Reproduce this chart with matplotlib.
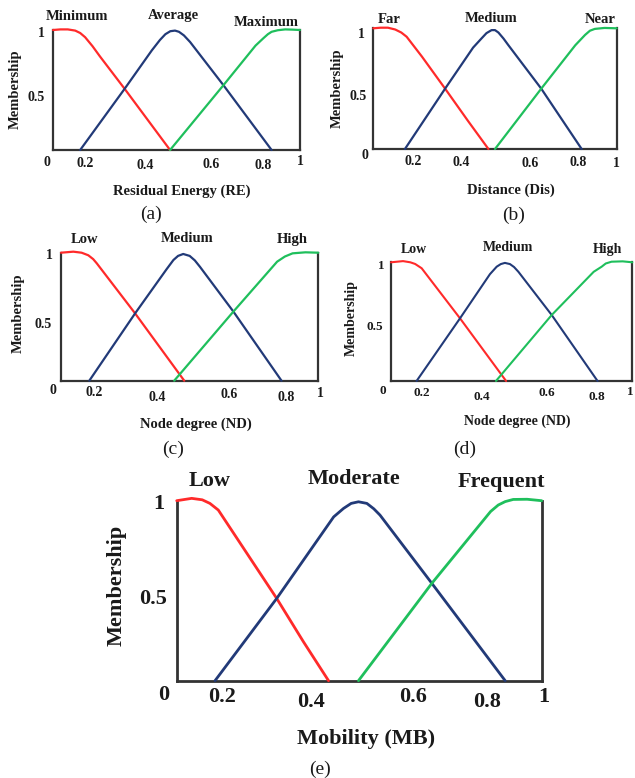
import matplotlib
matplotlib.use("Agg")
import matplotlib.pyplot as plt

# ---------------- DATA ----------------
# Membership curves, x and y (x as fraction of each plot box)
a_red_x = [0, 0.03, 0.06, 0.09, 0.11, 0.13, 0.16, 0.19, 0.29, 0.474]
a_red_y = [1.0, 1.005, 1.005, 0.995, 0.975, 0.94, 0.865, 0.78, 0.51, 0.0]
a_blue_x = [0.11, 0.29, 0.40, 0.433, 0.455, 0.475, 0.494, 0.51, 0.53, 0.555, 0.69, 0.885]
a_blue_y = [0.0, 0.51, 0.83, 0.917, 0.965, 0.99, 0.995, 0.985, 0.955, 0.90, 0.54, 0.0]
a_green_x = [0.474, 0.69, 0.82, 0.851, 0.87, 0.885, 0.91, 0.94, 0.97, 1.0]
a_green_y = [0.0, 0.54, 0.87, 0.93, 0.965, 0.985, 0.998, 1.005, 1.003, 1.0]

b_red_x = [0, 0.03, 0.06, 0.09, 0.115, 0.137, 0.2, 0.295, 0.39, 0.473]
b_red_y = [1.0, 1.005, 1.005, 0.99, 0.965, 0.93, 0.765, 0.5, 0.23, 0.0]
b_blue_x = [0.13, 0.295, 0.41, 0.445, 0.465, 0.486, 0.50, 0.514, 0.535, 0.555, 0.69, 0.856]
b_blue_y = [0.0, 0.5, 0.84, 0.917, 0.96, 0.985, 0.985, 0.965, 0.915, 0.86, 0.5, 0.0]
b_green_x = [0.50, 0.69, 0.83, 0.87, 0.89, 0.91, 0.95, 1.0]
b_green_y = [0.0, 0.5, 0.86, 0.945, 0.98, 0.995, 1.003, 1.0]

c_red_x = [0, 0.048, 0.08, 0.106, 0.125, 0.139, 0.288, 0.479]
c_red_y = [1.0, 1.008, 1.0, 0.98, 0.95, 0.917, 0.526, 0.0]
c_blue_x = [0.11, 0.288, 0.41, 0.437, 0.455, 0.475, 0.50, 0.52, 0.54, 0.67, 0.857]
c_blue_y = [0.0, 0.526, 0.87, 0.943, 0.975, 0.99, 0.975, 0.94, 0.89, 0.54, 0.0]
c_green_x = [0.44, 0.67, 0.84, 0.87, 0.90, 0.95, 1.0]
c_green_y = [0.0, 0.54, 0.93, 0.97, 0.995, 1.003, 1.0]

d_red_x = [0, 0.05, 0.08, 0.10, 0.127, 0.286, 0.477]
d_red_y = [1.0, 1.01, 1.0, 0.986, 0.95, 0.528, 0.0]
d_blue_x = [0.106, 0.286, 0.41, 0.438, 0.455, 0.472, 0.493, 0.51, 0.528, 0.666, 0.856]
d_blue_y = [0.0, 0.528, 0.90, 0.963, 0.985, 0.995, 0.985, 0.96, 0.92, 0.556, 0.0]
d_green_x = [0.435, 0.666, 0.84, 0.873, 0.89, 0.914, 0.96, 1.0]
d_green_y = [0.0, 0.556, 0.92, 0.963, 0.99, 1.005, 1.008, 1.0]

e_red_x = [0, 0.041, 0.07, 0.091, 0.114, 0.274, 0.347, 0.416]
e_red_y = [1.0, 1.013, 1.005, 0.985, 0.948, 0.457, 0.217, 0.0]
e_blue_x = [0.105, 0.274, 0.43, 0.457, 0.478, 0.498, 0.521, 0.54, 0.557, 0.699, 0.90]
e_blue_y = [0.0, 0.457, 0.91, 0.957, 0.985, 0.994, 0.985, 0.955, 0.92, 0.541, 0.0]
e_green_x = [0.498, 0.699, 0.86, 0.881, 0.90, 0.922, 0.96, 1.0]
e_green_y = [0.0, 0.541, 0.94, 0.976, 0.995, 1.007, 1.008, 1.0]

a_sets = ["Minimum", "Average", "Maximum"]
b_sets = ["Far", "Medium", "Near"]
c_sets = ["Low", "Medium", "High"]
d_sets = ["Low", "Medium", "High"]
e_sets = ["Low", "Moderate", "Frequent"]

x_tick_labels = ["0", "0.2", "0.4", "0.6", "0.8", "1"]
y_tick_labels = ["1", "0.5"]
y_label = "Membership"
x_labels = ["Residual Energy (RE)", "Distance (Dis)", "Node degree (ND)",
            "Node degree (ND)", "Mobility (MB)"]
captions = ["(a)", "(b)", "(c)", "(d)", "(e)"]

# ---------------- STYLE / LAYOUT ----------------
RED = "#ff2a2a"
BLUE = "#223a78"
GREEN = "#1fbf5c"
SERIF = ["Liberation Serif", "DejaVu Serif"]
TXT = "#1a1a1a"

W, H = 635, 778
fig = plt.figure(figsize=(W / 100, H / 100), dpi=100)


def rect(l, r, t, b):
    return [l / W, (H - b) / H, (r - l) / W, (b - t) / H]


panels = [
    dict(rect=rect(53, 300, 30, 150), curves=(a_red_x, a_red_y, a_blue_x, a_blue_y, a_green_x, a_green_y),
         sets=a_sets, set_pos=[(0.096, 1.11), (0.487, 1.117), (0.865, 1.06)],
         yt_pos=[(-0.046, 0.97), (-0.07, 0.436)],
         xt_pos=[(-0.026, -0.10), (0.13, -0.11), (0.372, -0.13), (0.642, -0.117), (0.851, -0.13), (1.0, -0.097)],
         ylab=(-0.154, 0.51), xlab=(0.521, -0.342), cap=(0.395, -0.54),
         fs_set=10.5, fs_tick=10, fs_lab=10.5, fs_cap=14, lw=1.6),
    dict(rect=rect(373.3, 616.7, 28.3, 149), curves=(b_red_x, b_red_y, b_blue_x, b_blue_y, b_green_x, b_green_y),
         sets=b_sets, set_pos=[(0.065, 1.069), (0.484, 1.083), (0.932, 1.075)],
         yt_pos=[(-0.048, 0.95), (-0.064, 0.433)],
         xt_pos=[(-0.034, -0.05), (0.164, -0.105), (0.363, -0.113), (0.644, -0.124), (0.842, -0.113), (1.0, -0.118)],
         ylab=(-0.15, 0.503), xlab=(0.566, -0.345), cap=(0.575, -0.547),
         fs_set=10.5, fs_tick=10, fs_lab=10.5, fs_cap=14, lw=1.6),
    dict(rect=rect(61, 318.3, 252.7, 380.7), curves=(c_red_x, c_red_y, c_blue_x, c_blue_y, c_green_x, c_green_y),
         sets=c_sets, set_pos=[(0.093, 1.107), (0.489, 1.112), (0.897, 1.10)],
         yt_pos=[(-0.045, 0.977), (-0.069, 0.44)],
         xt_pos=[(-0.032, -0.078), (0.13, -0.094), (0.374, -0.13), (0.654, -0.104), (0.874, -0.13), (1.01, -0.1)],
         ylab=(-0.166, 0.527), xlab=(0.525, -0.338), cap=(0.434, -0.54),
         fs_set=10.5, fs_tick=10, fs_lab=10.5, fs_cap=14, lw=1.6),
    dict(rect=rect(391, 632.3, 262.3, 381), curves=(d_red_x, d_red_y, d_blue_x, d_blue_y, d_green_x, d_green_y),
         sets=d_sets, set_pos=[(0.095, 1.112), (0.486, 1.123), (0.898, 1.11)],
         yt_pos=[(-0.041, 0.971), (-0.066, 0.457)],
         xt_pos=[(-0.032, -0.082), (0.127, -0.099), (0.376, -0.132), (0.645, -0.104), (0.852, -0.132), (0.993, -0.09)],
         ylab=(-0.163, 0.528), xlab=(0.525, -0.337), cap=(0.307, -0.573),
         fs_set=10, fs_tick=9.5, fs_lab=10, fs_cap=14, lw=1.5),
    dict(rect=rect(176.7, 541.7, 500.7, 680.7), curves=(e_red_x, e_red_y, e_blue_x, e_blue_y, e_green_x, e_green_y),
         sets=e_sets, set_pos=[(0.091, 1.111), (0.486, 1.119), (0.89, 1.106)],
         yt_pos=[(-0.048, 0.982), (-0.064, 0.452)],
         xt_pos=[(-0.035, -0.079), (0.123, -0.092), (0.367, -0.117), (0.648, -0.092), (0.849, -0.117), (1.005, -0.092)],
         ylab=(-0.164, 0.532), xlab=(0.52, -0.326), cap=(0.393, -0.492),
         fs_set=16, fs_tick=16, fs_lab=16, fs_cap=14, lw=2.0),
]

for i, p in enumerate(panels):
    ax = fig.add_axes(p["rect"])
    ax.set_xlim(0, 1)
    ax.set_ylim(0, 1)
    rx, ry, bx, by, gx, gy = p["curves"]
    ax.plot(rx, ry, color=RED, lw=p["lw"], clip_on=False, solid_capstyle="round", zorder=3)
    ax.plot(bx, by, color=BLUE, lw=p["lw"], clip_on=False, solid_capstyle="round", zorder=3)
    ax.plot(gx, gy, color=GREEN, lw=p["lw"], clip_on=False, solid_capstyle="round", zorder=3)
    ax.spines["top"].set_visible(False)
    for s in ("left", "right", "bottom"):
        ax.spines[s].set_color("#333333")
        ax.spines[s].set_linewidth(1.6 if i < 4 else 2.0)
    ax.set_xticks([])
    ax.set_yticks([])
    tr = ax.transAxes
    for name, (x, y) in zip(p["sets"], p["set_pos"]):
        ax.text(x, y, name, transform=tr, ha="center", va="center", fontsize=p["fs_set"],
                fontweight="bold", family=SERIF, color=TXT)
    for lab, (x, y) in zip(y_tick_labels, p["yt_pos"]):
        ax.text(x, y, lab, transform=tr, ha="center", va="center", fontsize=p["fs_tick"],
                fontweight="bold", family=SERIF, color=TXT)
    for lab, (x, y) in zip(x_tick_labels, p["xt_pos"]):
        ax.text(x, y, lab, transform=tr, ha="center", va="center", fontsize=p["fs_tick"],
                fontweight="bold", family=SERIF, color=TXT)
    ax.text(p["ylab"][0], p["ylab"][1], y_label, transform=tr, ha="center", va="center",
            rotation=90, fontsize=p["fs_lab"], fontweight="bold", family=SERIF, color=TXT)
    ax.text(p["xlab"][0], p["xlab"][1], x_labels[i], transform=tr, ha="center", va="center",
            fontsize=p["fs_lab"], fontweight="bold", family=SERIF, color=TXT)
    ax.text(p["cap"][0], p["cap"][1], captions[i], transform=tr, ha="center", va="center",
            fontsize=p["fs_cap"], family=SERIF, color=TXT)

fig.savefig("out.png", dpi=100)
